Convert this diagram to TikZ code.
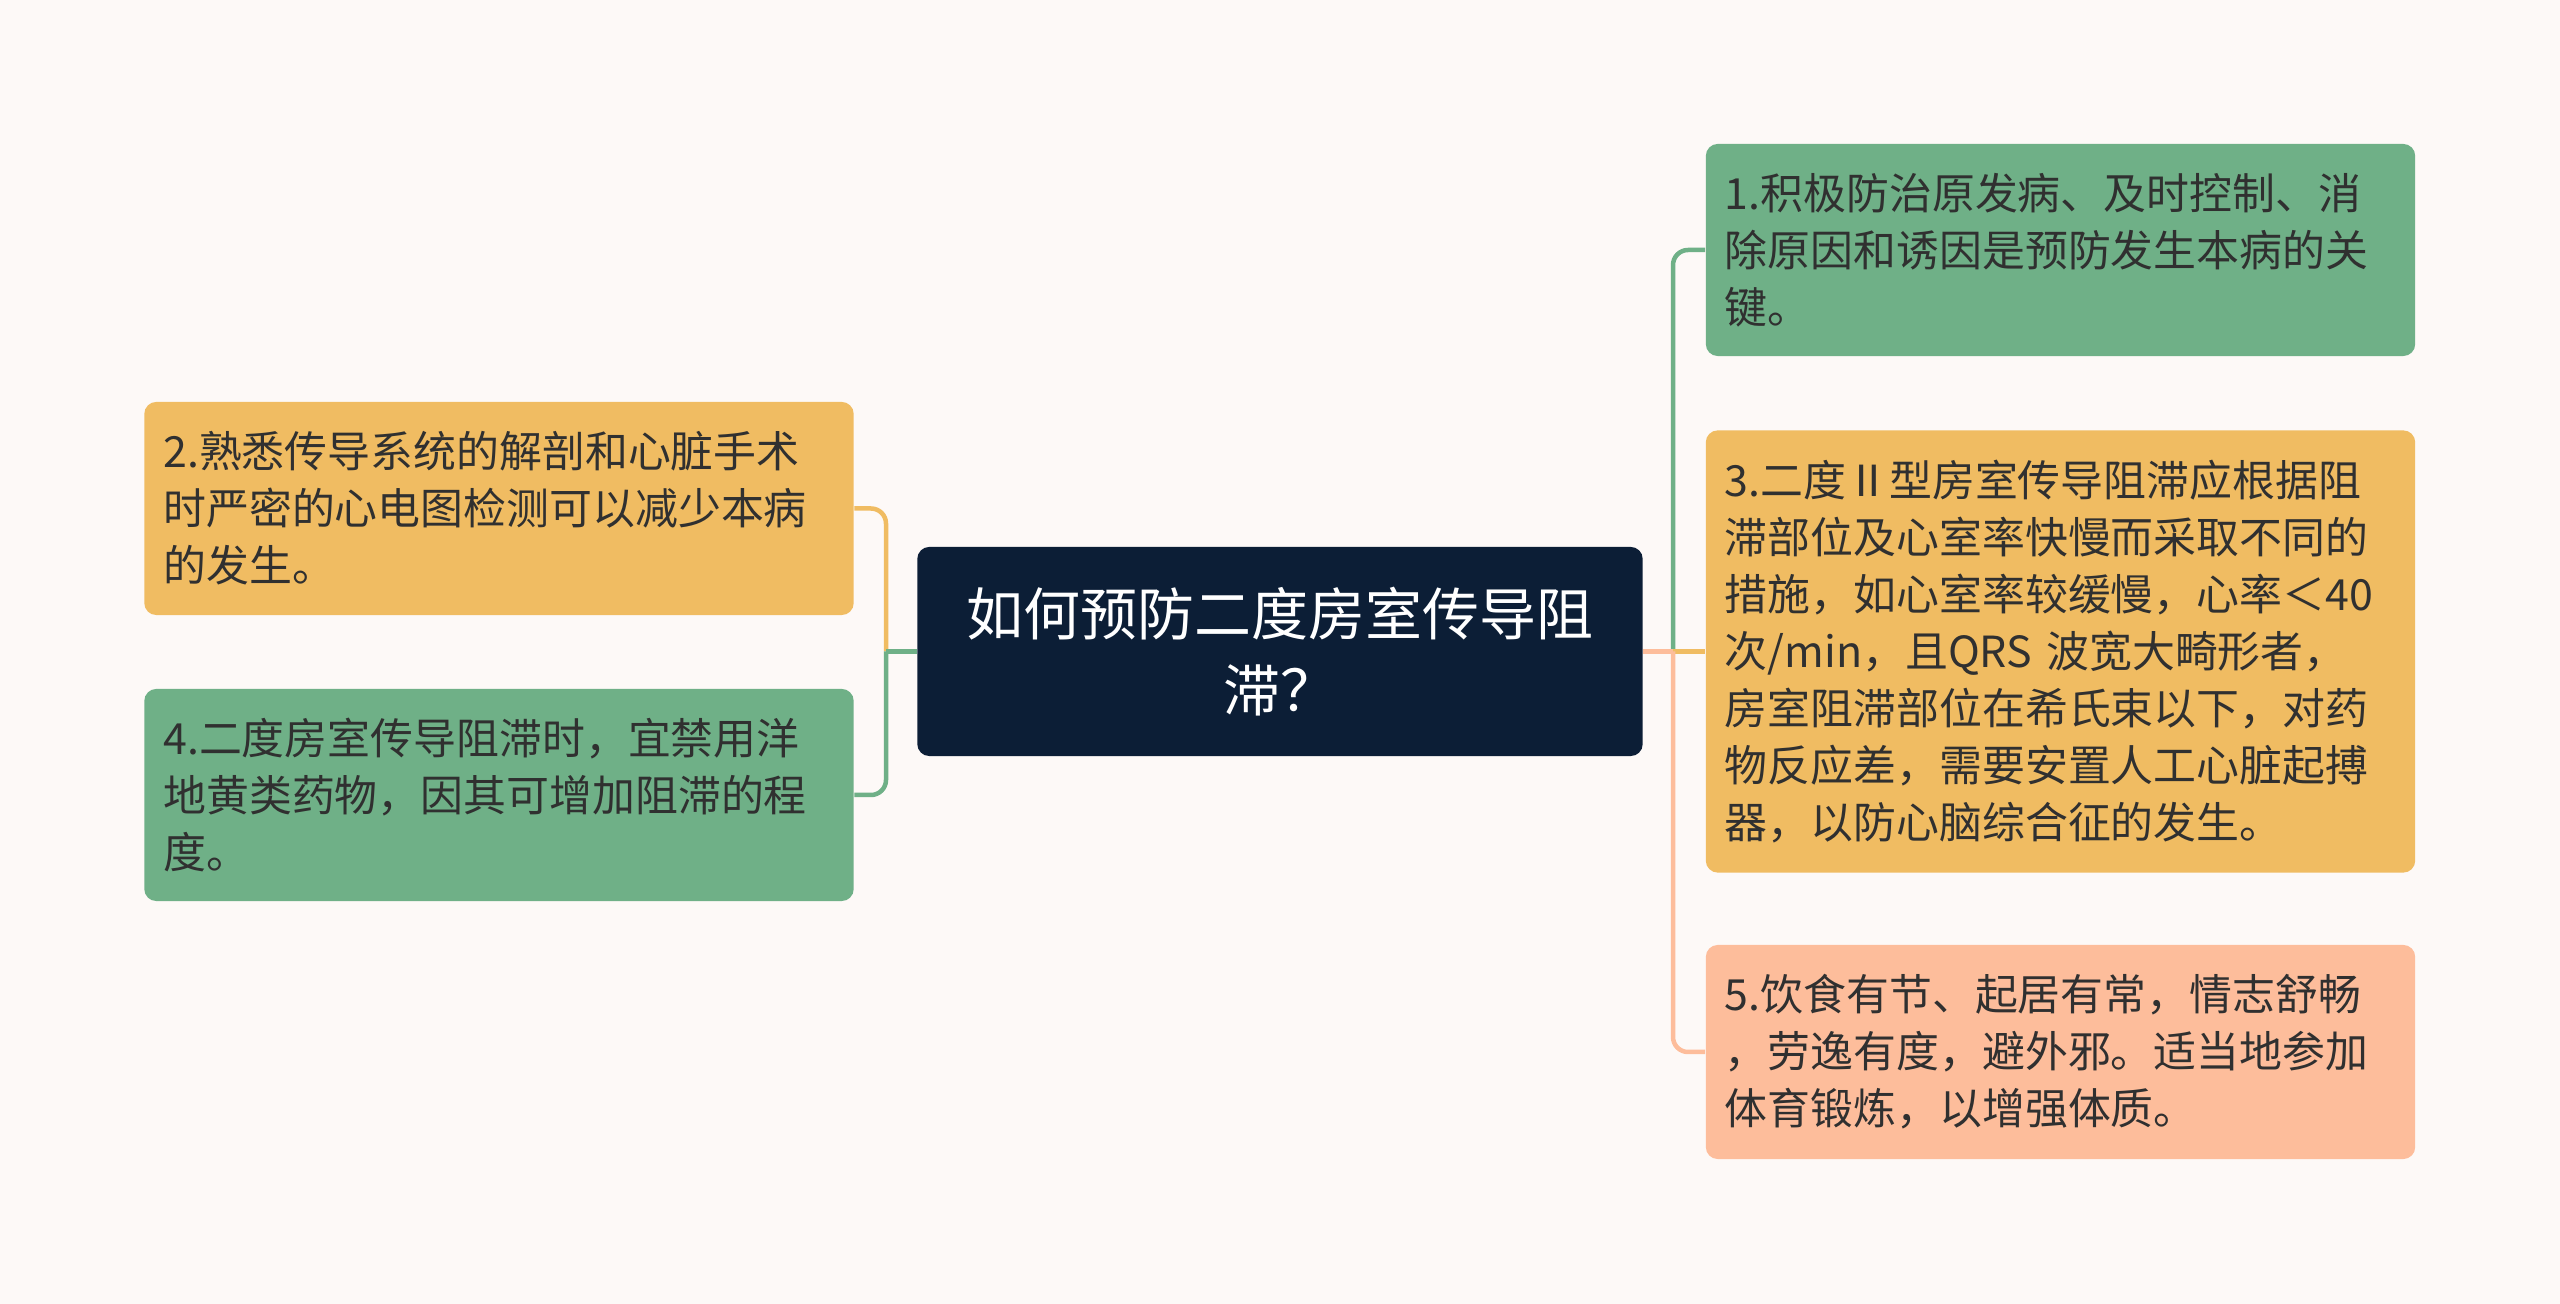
\documentclass[tikz,border=0pt]{standalone}
\usepackage{fontspec}
\setmainfont{Noto Sans CJK SC}
\usepackage[HTML]{xcolor}
\usetikzlibrary{positioning}

\definecolor{paper}{HTML}{FDF9F7}
\definecolor{navy}{HTML}{0C1E36}
\definecolor{leafgreen}{HTML}{6FB087}
\definecolor{leafyellow}{HTML}{F0BC62}
\definecolor{leafpeach}{HTML}{FDBD9B}
\definecolor{ink}{HTML}{303030}

\tikzset{
  topic/.style={fill=navy, rounded corners=0.12cm, minimum width=7.25cm, minimum height=2.09cm,
    text width=7cm, align=center, text=white, font=\fontsize{16.2pt}{21.8pt}\selectfont},
  leaf/.style={rounded corners=0.12cm, minimum width=7.09cm, minimum height=#1,
    text width=6.71cm, inner xsep=0.19cm, align=left, text=ink, font=\fontsize{12.2pt}{16.2pt}\selectfont},
  branch/.style={line width=0.045cm},
}

\begin{document}
\begin{tikzpicture}[x=0.01cm, y=-0.01cm]
\fill[paper] (0,0) rectangle (2560,1304);
\useasboundingbox (0,0) rectangle (2560,1304);

\node[topic] (ctr) at (1280,651.5) {如何预防二度房室传导阻\\滞？};

\node[leaf=2.12cm, fill=leafgreen] (n1) at (2060.5,250) {1.积极防治原发病、及时控制、消\\除原因和诱因是预防发生本病的关\\键。};
\node[leaf=4.42cm, fill=leafyellow] (n3) at (2060.5,651.5) {3.二度Ⅱ型房室传导阻滞应根据阻\\滞部位及心室率快慢而采取不同的\\措施，如心室率较缓慢，心率＜40\\次/min，且QRS 波宽大畸形者，\\房室阻滞部位在希氏束以下，对药\\物反应差，需要安置人工心脏起搏\\器，以防心脑综合征的发生。};
\node[leaf=2.14cm, fill=leafpeach] (n5) at (2060.5,1052) {5.饮食有节、起居有常，情志舒畅\\，劳逸有度，避外邪。适当地参加\\体育锻炼，以增强体质。};
\node[leaf=2.13cm, fill=leafyellow] (n2) at (499,508.5) {2.熟悉传导系统的解剖和心脏手术\\时严密的心电图检测可以减少本病\\的发生。};
\node[leaf=2.12cm, fill=leafgreen] (n4) at (499,795) {4.二度房室传导阻滞时，宜禁用洋\\地黄类药物，因其可增加阻滞的程\\度。};

\coordinate (rj) at (1673,651.5);
\coordinate (lj) at (886,651.5);

\draw[branch, leafgreen] (ctr.east) -- (rj);
\draw[branch, leafgreen, rounded corners=0.15cm] (rj) |- (n1.west);
\draw[branch, leafyellow] (ctr.east) -- (n3.west);
\draw[branch, leafpeach] (ctr.east) -- (rj);
\draw[branch, leafpeach, rounded corners=0.15cm] (rj) |- (n5.west);

\draw[branch, leafyellow] (ctr.west) -- (lj);
\draw[branch, leafyellow, rounded corners=0.15cm] (lj) |- (n2.east);
\draw[branch, leafgreen] (ctr.west) -- (lj);
\draw[branch, leafgreen, rounded corners=0.15cm] (lj) |- (n4.east);
\end{tikzpicture}
\end{document}
